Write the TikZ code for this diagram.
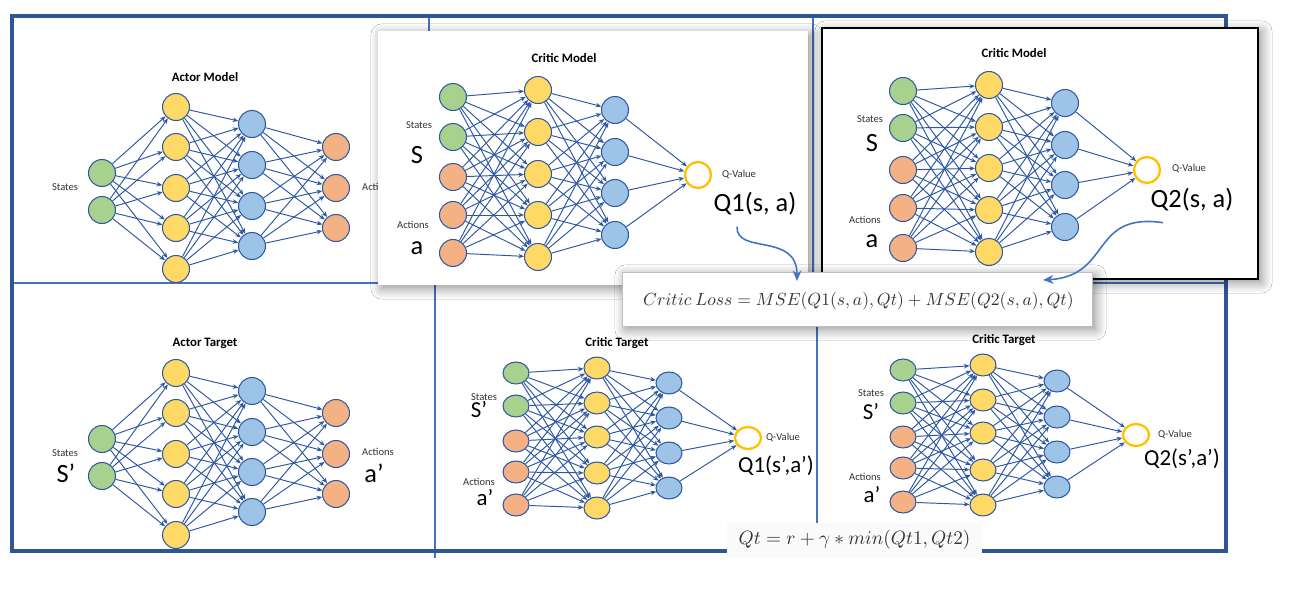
\documentclass[tikz,border=0pt]{standalone}
\usepackage[no-math]{fontspec}
\setmainfont{Carlito}
\usetikzlibrary{arrows.meta,shapes.geometric,shadows.blur}

\definecolor{frameblue}{HTML}{2F5597}
\definecolor{lineblue}{HTML}{4472C4}
\definecolor{edgeblue}{HTML}{2F58A3}
\definecolor{ingreen}{HTML}{A9D18E}
\definecolor{hidyellow}{HTML}{FFD966}
\definecolor{hidblue}{HTML}{9DC3E6}
\definecolor{outorange}{HTML}{F4B183}
\definecolor{qgold}{HTML}{FFC000}
\definecolor{mathgray}{HTML}{333333}

\tikzset{
  unit/.style={ellipse, draw=edgeblue, line width=0.6pt, inner sep=0pt, minimum width=0.54cm, minimum height=0.54cm},
  flat/.style={minimum width=0.52cm, minimum height=0.44cm},
  gunit/.style={unit, fill=ingreen},
  yunit/.style={unit, fill=hidyellow},
  bunit/.style={unit, fill=hidblue},
  runit/.style={unit, fill=outorange},
  qunit/.style={ellipse, draw=qgold, line width=1.3pt, fill=white, inner sep=0pt, minimum width=0.52cm, minimum height=0.52cm},
  link/.style={draw=edgeblue, line width=0.55pt, -{Stealth[length=3.2pt,width=2.6pt]}},
  nettitle/.style={font=\fontsize{7.3}{8}\selectfont\bfseries},
  tinylabel/.style={font=\fontsize{6}{7}\selectfont, text=black!80},
  biglabel/.style={font=\fontsize{15}{17}\selectfont},
  midlabel/.style={font=\fontsize{13}{15}\selectfont},
  lossarrow/.style={draw=lineblue, line width=0.9pt, -{Stealth[length=6pt,width=5pt]}},
  softshadow/.style={blur shadow={shadow xshift=2pt, shadow yshift=-2pt, shadow blur radius=6pt, shadow blur steps=10, shadow opacity=45}},
}

% one column of units: [first index]{prefix}{style}{x}{y list}
\newcommand{\unitcol}[5][1]{\foreach \yy [count=\i from #1] in {#5} \node[#3] (#2\i) at (#4,\yy) {};}
% all links between two columns: {from}{n}{to}{m}
\def\fulllinks#1#2#3#4{\foreach \i in {1,...,#2} \foreach \j in {1,...,#4} \draw[link] (#1\i) -- (#3\j);}

\begin{document}
\begin{tikzpicture}[x=0.02cm, y=-0.02cm]
	%%%%% START %%%%%
	\useasboundingbox (0,0) rectangle (1305,595);
	\fill[white] (0,0) rectangle (1305,595);

	% frame
	\draw[lineblue, line width=1.2pt] (12,283) -- (1226,283);
	\draw[lineblue, line width=1.2pt] (429,16) -- (429,283);
	\draw[lineblue, line width=1.2pt] (435,283) -- (435,558);
	\draw[lineblue, line width=1.2pt] (813,16) -- (813,283);
	\draw[lineblue, line width=1.2pt] (817,283) -- (817,558);
	\draw[frameblue, line width=1.8pt] (12,551) -- (12,16) -- (1226,16) -- (1226,551) -- cycle;

	% actor model
	\node[nettitle] (am-title) at (205,77) {Actor Model};
	\unitcol{am-i}{gunit}{102}{173,210}
	\unitcol{am-h}{yunit}{176}{107,147,188,228,269}
	\unitcol{am-g}{bunit}{252}{124,165,206,246}
	\unitcol{am-o}{runit}{336}{147,188,228}
	\fulllinks{am-i}{2}{am-h}{5}
	\fulllinks{am-h}{5}{am-g}{4}
	\fulllinks{am-g}{4}{am-o}{3}
	\node[tinylabel] (am-inlab) at (65,187) {States};
	\node[tinylabel] (am-outlab) at (378,187) {Actions};

	% actor target
	\node[nettitle] (at-title) at (205,343) {Actor Target};
	\unitcol{at-i}{gunit}{102}{439,476}
	\unitcol{at-h}{yunit}{176}{373,413,454,494,535}
	\unitcol{at-g}{bunit}{252}{391,432,472,512}
	\unitcol{at-o}{runit}{336}{413,454,494}
	\fulllinks{at-i}{2}{at-h}{5}
	\fulllinks{at-h}{5}{at-g}{4}
	\fulllinks{at-g}{4}{at-o}{3}
	\node[tinylabel] (at-inlab) at (65,453) {States};
	\node[biglabel] (at-s) at (66,473) {S’};
	\node[tinylabel] (at-outlab) at (378,452) {Actions};
	\node[biglabel] (at-a) at (374,473) {a’};

	% critic target one
	\node[nettitle] (ta-title) at (617,343) {Critic Target};
	\unitcol{ta-i}{gunit,flat}{516}{373,406}
	\unitcol[3]{ta-i}{runit,flat}{516}{441,472,505}
	\unitcol{ta-h}{yunit,flat}{597}{368,403,437,473,508}
	\unitcol{ta-g}{bunit,flat}{669}{383,418,453,488}
	\node[qunit, flat] (ta-q) at (748,438) {};
	\fulllinks{ta-i}{5}{ta-h}{5}
	\fulllinks{ta-h}{5}{ta-g}{4}
	\foreach \i in {1,...,4} \draw[link] (ta-g\i) -- (ta-q);
	\node[tinylabel] (ta-inlab) at (484,397) {States};
	\node[midlabel] (ta-s) at (479,410) {S’};
	\node[tinylabel] (ta-actlab) at (479,482) {Actions};
	\node[midlabel] (ta-a) at (485,498) {a’};
	\node[tinylabel] (ta-qv) at (783,438) {Q-Value};
	\node[midlabel] (ta-qlab) at (776,466) {Q1(s’,a’)};

	% critic target two
	\node[nettitle] (tb-title) at (1004,340) {Critic Target};
	\unitcol{tb-i}{gunit,flat}{903}{370,403}
	\unitcol[3]{tb-i}{runit,flat}{903}{437,468,502}
	\unitcol{tb-h}{yunit,flat}{983}{365,400,433,470,505}
	\unitcol{tb-g}{bunit,flat}{1057}{381,417,452,487}
	\node[qunit, flat] (tb-q) at (1136,435) {};
	\fulllinks{tb-i}{5}{tb-h}{5}
	\fulllinks{tb-h}{5}{tb-g}{4}
	\foreach \i in {1,...,4} \draw[link] (tb-g\i) -- (tb-q);
	\node[tinylabel] (tb-inlab) at (871,393) {States};
	\node[midlabel] (tb-s) at (871,412) {S’};
	\node[tinylabel] (tb-actlab) at (865,477) {Actions};
	\node[midlabel] (tb-a) at (872,495) {a’};
	\node[tinylabel] (tb-qv) at (1175,435) {Q-Value};
	\node[midlabel] (tb-qlab) at (1182,459) {Q2(s’,a’)};

	% critic model one
	\fill[white, softshadow] (378,31) rectangle (808,285);
	\node[nettitle] (ca-title) at (564,58) {Critic Model};
	\unitcol{ca-i}{gunit}{453}{97,137}
	\unitcol[3]{ca-i}{runit}{453}{177,215,253}
	\unitcol{ca-h}{yunit}{538}{90,132,174,215,257}
	\unitcol{ca-g}{bunit}{615}{110,152,193,235}
	\node[qunit] (ca-q) at (698,175) {};
	\fulllinks{ca-i}{5}{ca-h}{5}
	\fulllinks{ca-h}{5}{ca-g}{4}
	\foreach \i in {1,...,4} \draw[link] (ca-g\i) -- (ca-q);
	\node[tinylabel] (ca-inlab) at (419,125) {States};
	\node[biglabel] (ca-s) at (417,155) {S};
	\node[tinylabel] (ca-actlab) at (413,225) {Actions};
	\node[biglabel] (ca-a) at (417,248) {a};
	\node[tinylabel] (ca-qv) at (739,175) {Q-Value};
	\node[biglabel] (ca-qlab) at (755,204) {Q1(s, a)};

	% critic model two
	\filldraw[fill=white, draw=black, line width=1.3pt, softshadow] (822,28) rectangle (1258,279);
	\node[nettitle] (cb-title) at (1014,53) {Critic Model};
	\unitcol{cb-i}{gunit}{903}{91,128}
	\unitcol[3]{cb-i}{runit}{903}{170,208,248}
	\unitcol{cb-h}{yunit}{989}{85,127,168,210,252}
	\unitcol{cb-g}{bunit}{1065}{103,145,185,227}
	\node[qunit] (cb-q) at (1147,170) {};
	\fulllinks{cb-i}{5}{cb-h}{5}
	\fulllinks{cb-h}{5}{cb-g}{4}
	\foreach \i in {1,...,4} \draw[link] (cb-g\i) -- (cb-q);
	\node[tinylabel] (cb-inlab) at (870,119) {States};
	\node[biglabel] (cb-s) at (872,143) {S};
	\node[tinylabel] (cb-actlab) at (865,220) {Actions};
	\node[biglabel] (cb-a) at (872,241) {a};
	\node[tinylabel] (cb-qv) at (1189,169) {Q-Value};
	\node[biglabel] (cb-qlab) at (1192,200) {Q2(s, a)};

	% critic loss
	\filldraw[fill=white, draw=black!25, line width=0.5pt, softshadow] (622,272) rectangle (1092,326);
	\begin{scope}
		\clip (622,272) rectangle (1087,326);
		\node[anchor=west, text=mathgray, font=\fontsize{10.2}{12}\selectfont] (loss-text) at (637,301)
			{$Critic\ Loss = MSE(Q1(s,a),Qt) + MSE(Q2(s,a),Qt)$};
	\end{scope}
	\coordinate (loss-in1) at (797,281);
	\coordinate (loss-in2) at (1043,280);

	% target value
	\node[fill=black!2, inner sep=0pt, minimum width=5.1cm, minimum height=0.7cm, text=mathgray, font=\fontsize{11}{13}\selectfont] (qt-box) at (854.5,540)
		{$Qt = r + \gamma * min(Qt1, Qt2)$};

	\draw[lossarrow] ([xshift=-0.36cm, yshift=-0.1cm]ca-qlab.south) .. controls (736,255) and (797,232) .. (loss-in1);
	\draw[lossarrow] ([xshift=-0.58cm, yshift=-0.1cm]cb-qlab.south) .. controls (1090,212) and (1112,276) .. (loss-in2);
	%%%%% END %%%%%
\end{tikzpicture}
\end{document}
